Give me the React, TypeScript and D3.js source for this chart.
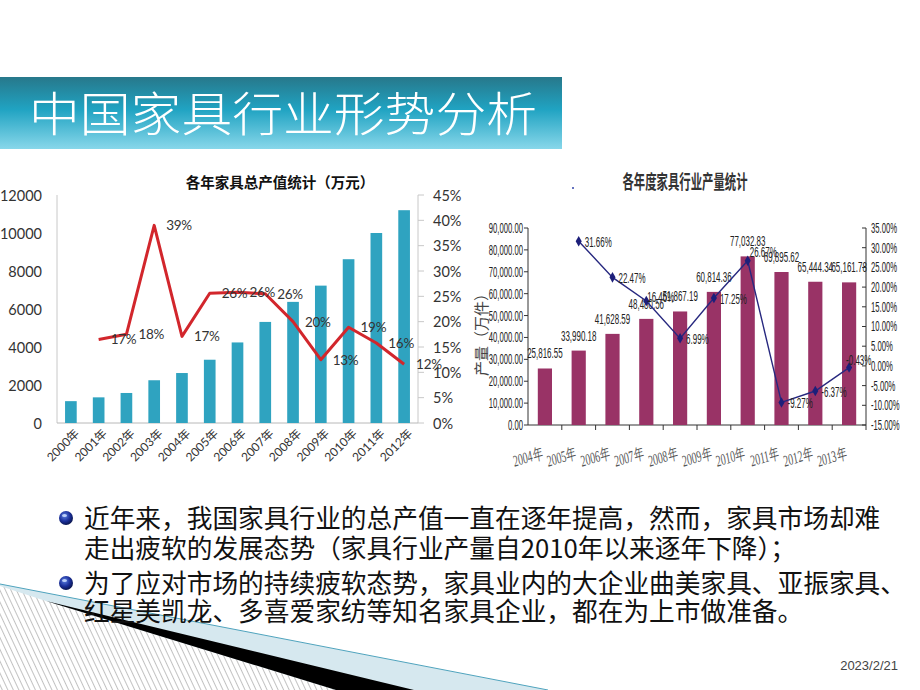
import * as d3 from "d3";

// left chart: total output value (万元) and growth rate
const totalYears = ["2000年", "2001年", "2002年", "2003年", "2004年", "2005年", "2006年", "2007年", "2008年", "2009年", "2010年", "2011年", "2012年"];
const totalOutput = [1150, 1350, 1580, 2250, 2630, 3330, 4240, 5320, 6375, 7230, 8620, 10000, 11200];
const growthYears = ["2001年", "2002年", "2003年", "2004年", "2005年", "2006年", "2007年", "2008年", "2009年", "2010年", "2011年", "2012年"];
const totalGrowth = [16.5, 17.5, 39, 17.1, 25.6, 25.8, 25.5, 20, 12.5, 18.9, 15.8, 11.6];
const totalTicks = [0, 2000, 4000, 6000, 8000, 10000, 12000];
const growthTicks = [0, 5, 10, 15, 20, 25, 30, 35, 40, 45];

// right chart: production (万件) and growth rate
const prodYears = ["2004年", "2005年", "2006年", "2007年", "2008年", "2009年", "2010年", "2011年", "2012年", "2013年"];
const prodOutput = [25816.55, 33990.18, 41628.59, 48480.56, 51867.19, 60814.36, 77032.83, 69895.62, 65444.34, 65161.78];
const prodGrowthYears = ["2005年", "2006年", "2007年", "2008年", "2009年", "2010年", "2011年", "2012年", "2013年"];
const prodGrowth = [31.66, 22.47, 16.46, 6.99, 17.25, 26.67, -9.27, -6.37, -0.43];
const prodTicks = [0, 10000, 20000, 30000, 40000, 50000, 60000, 70000, 80000, 90000];
const prodRateTicks = [-15, -10, -5, 0, 5, 10, 15, 20, 25, 30, 35];

const bullets = [
  ["近年来，我国家具行业的总产值一直在逐年提高，然而，家具市场却难", "走出疲软的发展态势（家具行业产量自2010年以来逐年下降）；"],
  ["为了应对市场的持续疲软态势，家具业内的大企业曲美家具、亚振家具、", "红星美凯龙、多喜爱家纺等知名家具企业，都在为上市做准备。"],
];

const CJK = "'Noto Sans CJK SC', sans-serif";
const LEFT_FONT = "Lato, 'Noto Sans CJK SC', sans-serif";
const SANS = "'Liberation Sans', Arial, 'Noto Sans CJK SC', sans-serif";

// condensed label: the source uses a very narrow face, so squeeze horizontally
function NText({ x, y, anchor = "start", sx = 0.55, size = 14, baseline, children }) {
  return (
    <text
      transform={`translate(${x},${y}) scale(${sx},1)`}
      textAnchor={anchor}
      dominantBaseline={baseline}
      fontFamily={SANS}
      fontSize={size}
      fill="#222"
    >
      {children}
    </text>
  );
}

function LeftChart() {
  const x = d3.scaleBand().domain(totalYears).range([57, 418]).paddingInner(0.58).paddingOuter(0.29);
  const y = d3.scaleLinear().domain([0, 12000]).range([423, 195]);
  const yr = d3.scaleLinear().domain([0, 45]).range([423, 195]);
  const cx = (k) => x(k) + x.bandwidth() / 2;
  const line = d3.line().x((d) => cx(d[0])).y((d) => yr(d[1]));
  const pts = growthYears.map((k, i) => [k, totalGrowth[i]]);

  return (
    <g>
      <text x={280} y={188} textAnchor="middle" fontFamily={CJK} fontWeight="bold" fontSize={14.5} fill="#111">
        各年家具总产值统计（万元）
      </text>
      <line x1={57} x2={57} y1={195} y2={423} stroke="#c8c8c8" />
      <line x1={418} x2={418} y1={195} y2={423} stroke="#c8c8c8" />
      <line x1={57} x2={418} y1={423} y2={423} stroke="#b8b8b8" />
      {totalTicks.map((t) => (
        <text key={t} x={42} y={y(t)} textAnchor="end" dominantBaseline="central" fontFamily={LEFT_FONT} fontSize={14.5} fill="#333">
          {t}
        </text>
      ))}
      {growthTicks.map((t) => (
        <g key={t}>
          <line x1={418} x2={424} y1={yr(t)} y2={yr(t)} stroke="#c8c8c8" />
          <text x={433} y={yr(t)} dominantBaseline="central" fontFamily={LEFT_FONT} fontSize={14.5} fill="#333">
            {t}%
          </text>
        </g>
      ))}
      {totalYears.map((k, i) => (
        <rect key={k} x={x(k)} y={y(totalOutput[i])} width={x.bandwidth()} height={423 - y(totalOutput[i])} fill="#2fa3c0" />
      ))}
      {totalYears.map((k) => (
        <text key={k} transform={`translate(${cx(k) + 6},${431}) rotate(-45)`} textAnchor="end" dominantBaseline="central" fontFamily={LEFT_FONT} fontSize={12} fill="#333">
          {k}
        </text>
      ))}
      <path d={line(pts)} fill="none" stroke="#d2262c" strokeWidth={3} strokeLinejoin="round" />
      {pts.map(([k, v]) => (
        <text key={k} x={cx(k) + 12} y={yr(v)} dominantBaseline="central" fontFamily={LEFT_FONT} fontSize={13.5} letterSpacing={-0.3} fill="#333">
          {Math.round(v)}%
        </text>
      ))}
    </g>
  );
}

// nudges for the rate labels that sit above their marker
const rateLabelNudge = { "2007年": [1, -5], "2010年": [2, -9], "2013年": [-3, -8] };

function RightChart() {
  const x = d3.scaleBand().domain(prodYears).range([528, 866]).paddingInner(0.58).paddingOuter(0.29);
  const y = d3.scaleLinear().domain([0, 90000]).range([425, 228]);
  const yr = d3.scaleLinear().domain([-15, 35]).range([425, 228]);
  const cx = (k) => x(k) + x.bandwidth() / 2;
  const line = d3.line().x((d) => cx(d[0])).y((d) => yr(d[1]));
  const pts = prodGrowthYears.map((k, i) => [k, prodGrowth[i]]);
  const diamond = d3.symbol(d3.symbolDiamond, 32)();
  const fmt = d3.format(",.2f");
  const step = x.step();

  return (
    <g>
      <text x={685} y={189} textAnchor="middle" fontFamily={CJK} fontWeight="bold" fontSize={19} textLength={125} lengthAdjust="spacingAndGlyphs" fill="#333">
        各年度家具行业产量统计
      </text>
      <circle cx={573} cy={188} r={1} fill="#3344aa" />
      <text transform="translate(480,331) rotate(-90)" textAnchor="middle" dominantBaseline="central" fontFamily={CJK} fontSize={15} fill="#444">
        产量（万件）
      </text>
      <line x1={528} x2={528} y1={228} y2={425} stroke="#333" />
      <line x1={866} x2={866} y1={228} y2={425} stroke="#333" />
      <line x1={528} x2={866} y1={425} y2={425} stroke="#333" />
      {prodTicks.map((t) => (
        <g key={t}>
          <line x1={524} x2={528} y1={y(t)} y2={y(t)} stroke="#333" />
          <NText x={523} y={y(t)} anchor="end" baseline="central">
            {fmt(t)}
          </NText>
        </g>
      ))}
      {prodRateTicks.map((t) => (
        <g key={t}>
          <line x1={862} x2={866} y1={yr(t)} y2={yr(t)} stroke="#333" />
          <NText x={871} y={yr(t)} baseline="central">
            {t.toFixed(2)}%
          </NText>
        </g>
      ))}
      {prodYears.map((k, i) => (
        <line key={k} x1={528 + step * (i + 1)} x2={528 + step * (i + 1)} y1={425} y2={430} stroke="#333" />
      ))}
      {prodYears.map((k, i) => (
        <rect key={k} x={x(k)} y={y(prodOutput[i])} width={x.bandwidth()} height={425 - y(prodOutput[i])} fill="#993366" />
      ))}
      {prodYears.map((k, i) => (
        <NText key={k} x={cx(k)} y={y(prodOutput[i]) - 10} anchor="middle" size={14.5}>
          {fmt(prodOutput[i])}
        </NText>
      ))}
      {prodYears.map((k) => (
        <text key={k} transform={`translate(${cx(k) - 2},${458}) rotate(-17) scale(0.62,1)`} textAnchor="end" fontFamily="'Liberation Serif', serif" fontStyle="italic" fontSize={16} fill="#555">
          {k}
        </text>
      ))}
      <path d={line(pts)} fill="none" stroke="#27287f" strokeWidth={1.4} />
      {pts.map(([k, v]) => (
        <path key={k} d={diamond} transform={`translate(${cx(k)},${yr(v)})`} fill="#1d1f7a" />
      ))}
      {pts.map(([k, v]) => {
        const [dx, dy] = rateLabelNudge[k] || [6, 0];
        return (
          <NText key={k} x={cx(k) + dx} y={yr(v) + dy} baseline="central" size={14.5}>
            {v.toFixed(2)}%
          </NText>
        );
      })}
    </g>
  );
}

function Decoration() {
  return (
    <g>
      <polygon points="0,584 548,690 0,690" fill="#d6e8ef" />
      <line x1={0} y1={584} x2={548} y2={690} stroke="#4fa3bd" strokeWidth={1} />
      <polygon points="0,586 46,601 336,690 0,690" fill="url(#hatch)" />
      <polygon points="46,601 414,690 336,690" fill="#000" />
    </g>
  );
}

function Bullet({ cx, cy }) {
  return (
    <g>
      <circle cx={cx} cy={cy} r={7} fill="url(#ball)" />
      <ellipse cx={cx - 1.5} cy={cy - 2.5} rx={2.5} ry={1.6} fill="#cfe0ff" opacity={0.85} />
    </g>
  );
}

export default function App() {
  const lineYs = [[528, 558], [593, 621]];
  return (
    <svg width={920} height={690} style={{ position: "absolute", left: 0, top: 0, background: "#fff" }}>
      <defs>
        <linearGradient id="banner" x1="0" y1="0" x2="0" y2="1">
          <stop offset="0" stopColor="#27788b" />
          <stop offset="0.45" stopColor="#20a3c2" />
          <stop offset="1" stopColor="#88d7ea" />
        </linearGradient>
        <radialGradient id="ball" cx="0.4" cy="0.35" r="0.65">
          <stop offset="0" stopColor="#5b7fe0" />
          <stop offset="0.6" stopColor="#1a2f9a" />
          <stop offset="1" stopColor="#0a1650" />
        </radialGradient>
        <pattern id="hatch" patternUnits="userSpaceOnUse" width={5} height={10} patternTransform="rotate(-25)">
          <rect width={5} height={10} fill="#fff" />
          <line x1={0.5} y1={0} x2={0.5} y2={10} stroke="#a8a8a8" strokeWidth={0.7} />
        </pattern>
      </defs>
      <rect width={920} height={690} fill="#fff" />
      <Decoration />
      <rect x={0} y={77} width={562} height={72} fill="url(#banner)" />
      <text x={29} y={131} fontFamily={CJK} fontWeight={300} fontSize={47} fill="#fff" textLength={508} lengthAdjust="spacingAndGlyphs">
        中国家具行业形势分析
      </text>
      <LeftChart />
      <RightChart />
      {bullets.map((lines, i) => (
        <g key={i}>
          <Bullet cx={66} cy={lineYs[i][0] - 10} />
          {lines.map((s, j) => (
            <text key={j} x={84} y={lineYs[i][j]} fontFamily={CJK} fontSize={25.7} fill="#111">
              {s}
            </text>
          ))}
        </g>
      ))}
      <text x={898} y={670} textAnchor="end" fontFamily={SANS} fontSize={13} fill="#444">
        2023/2/21
      </text>
    </svg>
  );
}
